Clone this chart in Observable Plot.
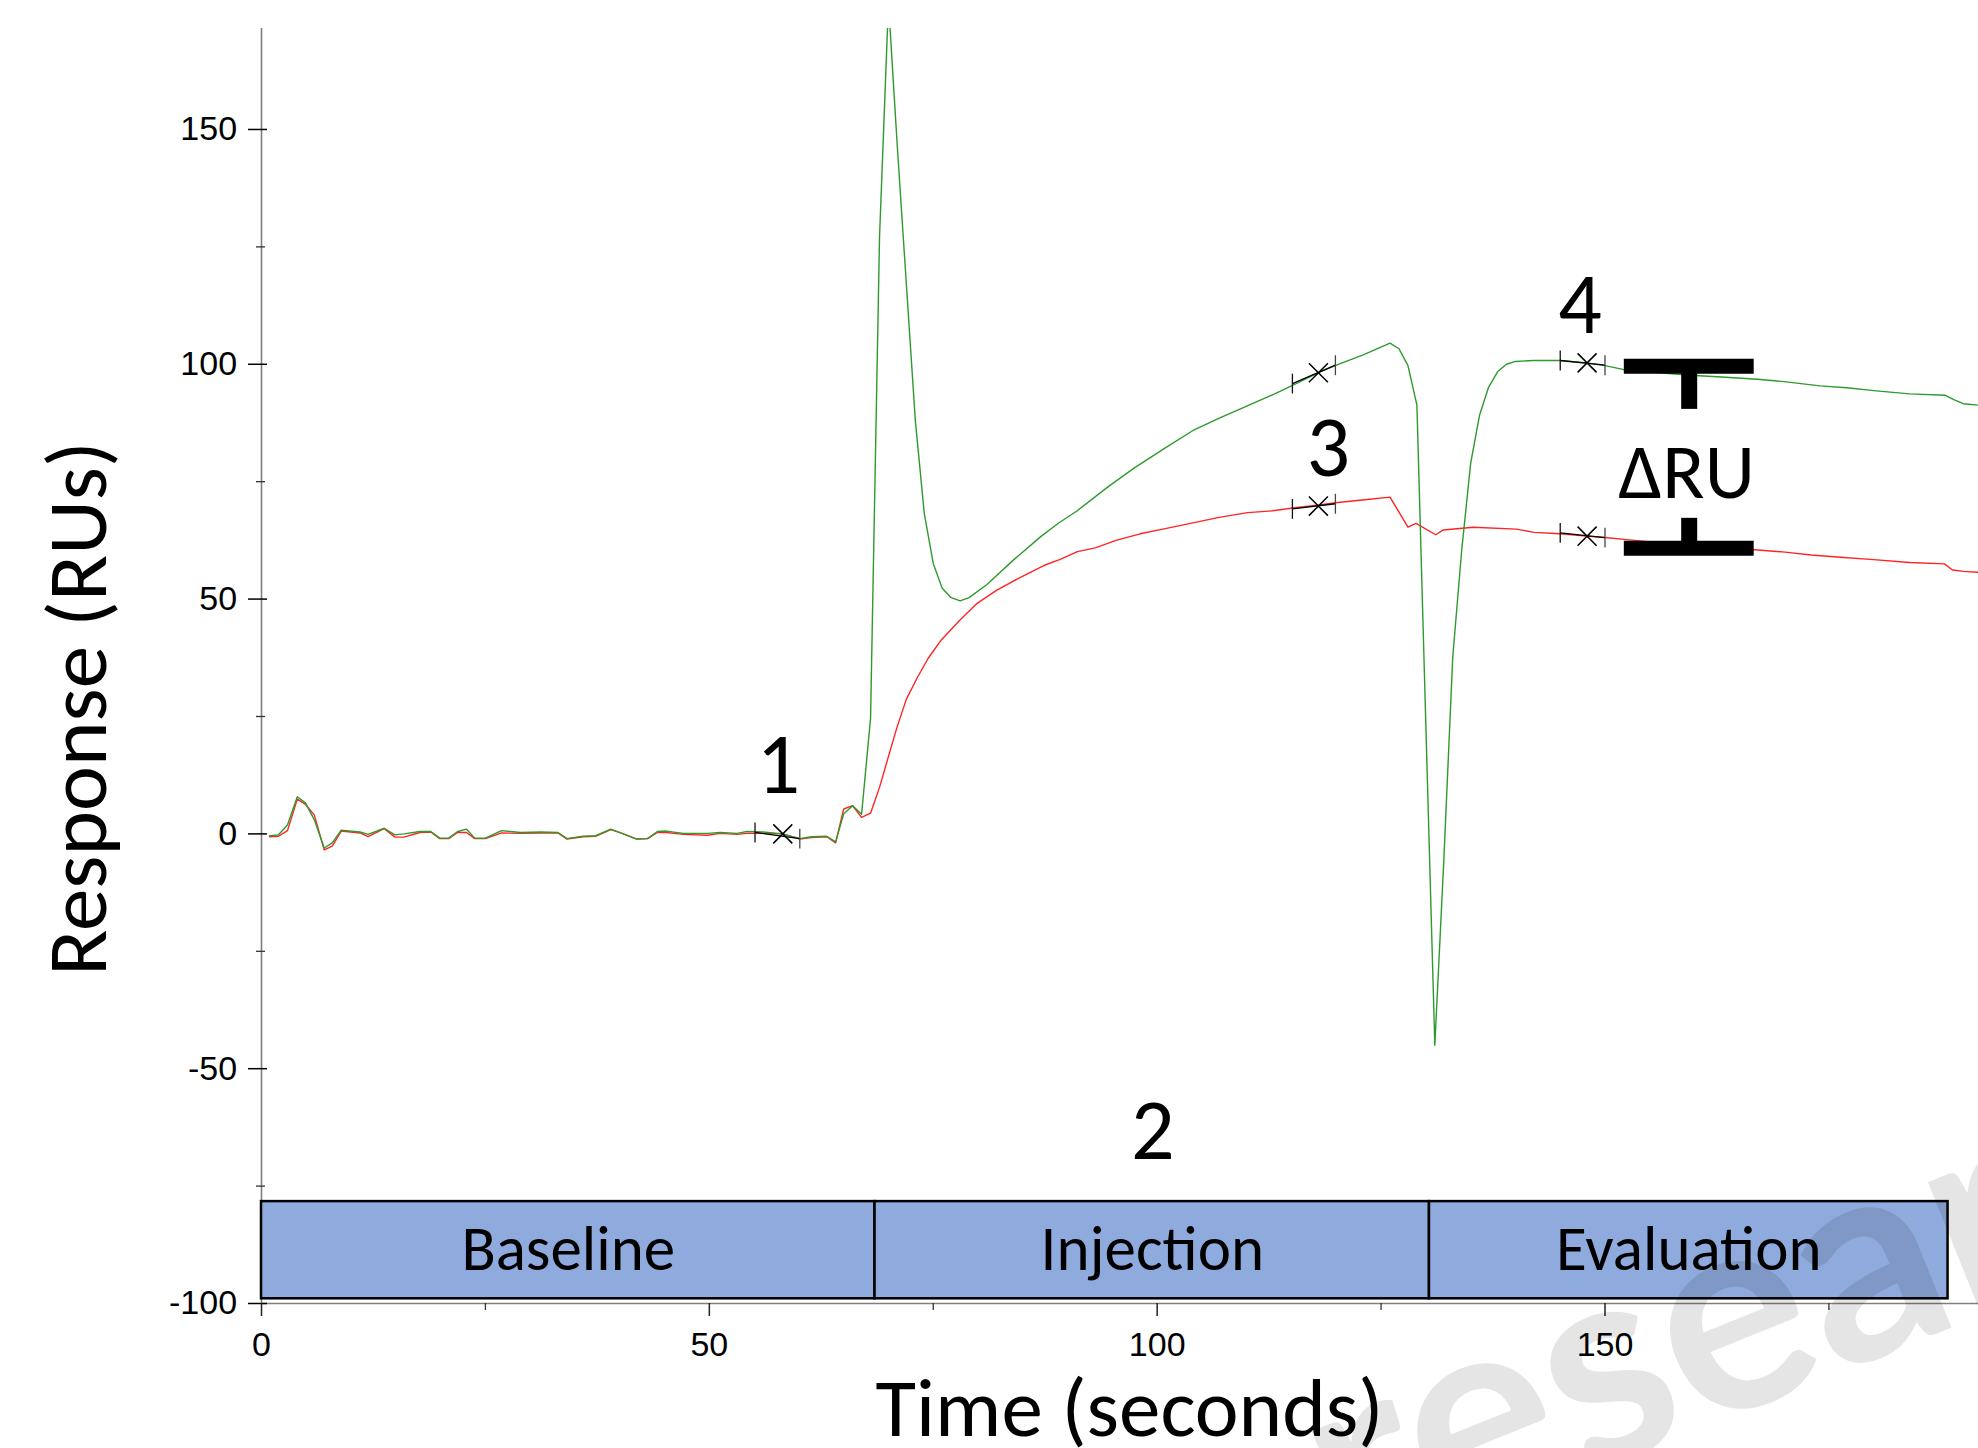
<!DOCTYPE html>
<html><head><meta charset="utf-8">
<script src="https://cdn.jsdelivr.net/npm/d3@7"></script>
<script src="https://cdn.jsdelivr.net/npm/@observablehq/plot@0.6"></script>
<style>html,body{margin:0;padding:0;background:#fff;overflow:hidden}</style>
</head><body><div id="chart"></div>
<script>
// ---- data ----
const greenTime = [0.9,1.9,2.9,4.0,4.9,5.9,7.0,7.9,8.9,11.0, 11.9,13.7,14.9,15.9,17.7,18.9,19.9,20.9,21.9,22.9, 23.8,25.0,26.8,28.9,31.2,33.1,34.1,35.9,37.3,39.0, 40.1,41.9,43.1,44.2,45.2,47.1,49.8,51.2,53.1,54.2, 56.0,58.2,60.1,61.4,63.1,64.1,65.0,66.0,67.0,68.0, 69,70,71,72,73,74,75,76,77,78, 79,81,84,87,89,91,94.5,97.5,101,104, 107,110,113,115,118,120,123,126,127,128, 129,130,131,132,133,134,135,136,137,138, 139,140,142,145,148,150,152,156,160,163, 167,170,174,177,180,184,188,189,190,191.7];
const greenResponse = [-0.4,-0.2,1.9,7.9,6.6,3.0,-3.0,-1.9,0.8,0.4, -0.1,1.2,-0.2,0.0,0.5,0.5,-0.9,-0.9,0.5,1.0, -0.9,-0.9,0.7,0.3,0.4,0.3,-1.0,-0.5,-0.4,1.0, 0.2,-1.1,-1.0,0.5,0.6,0.1,0.1,0.3,0.1,0.5, 0.4,0.0,-1.0,-0.6,-0.5,-1.7,4.3,6.0,4.2,24.6, 127,177,146,117,88,68.2,57.6,52.3,50.3,49.6, 50.3,53.1,58.4,63.3,66.2,68.7,73.9,78.0,82.3,85.9, 88.6,91.1,93.6,95.4,98.2,99.8,102.0,104.5,103.3,99.7, 91.3,23.0,-45.0,-5.8,37.6,60.4,78.9,89.2,95.1,98.4, 100.0,100.6,100.8,100.8,100.3,99.7,98.9,98.2,97.6,97.3, 96.8,96.3,95.4,95.0,94.4,93.7,93.4,92.4,91.6,91.3];
const redTime = [0.9,1.9,2.9,4.0,4.9,5.9,7.0,7.9,8.9,11.0, 11.9,13.7,14.9,15.9,17.7,18.9,19.9,20.9,21.9,22.9, 23.8,25.0,26.8,28.9,31.2,33.1,34.1,35.9,37.3,39.0, 40.1,41.9,43.1,44.2,45.2,47.1,49.8,51.2,53.1,54.2, 56.0,58.2,60.1,61.4,63.1,64.1, 65,66,67,68,69,70,71,72, 73.2,74.4,75.9,77.9,79.9,82.1,84.9,87.4,89.1,91.1, 93.1,95.4,98.1,100.9,104.4,106.9,110.1,112.9,115.1,117.9, 119.9,122.9,126.0,128.0,128.9,131.1,131.9,135.3,140.1,142.1, 145.0,147.9,150.0,152.7,156.0,160.0,163.0,166.7,170.1,173.0, 176.3,180.0,184.0,187.9,188.8,190.0,191.7];
const redResponse = [-0.6,-0.5,0.7,7.4,6.3,4.0,-3.4,-2.6,0.6,0.2, -0.6,1.1,-0.7,-0.7,0.3,0.4,-1.0,-1.0,0.3,0.3, -1.0,-1.0,0.2,0.1,0.2,0.2,-1.1,-0.6,-0.5,0.9, 0.2,-1.1,-1.0,0.3,0.3,-0.1,-0.3,0.1,-0.1,0.1, 0.1,0.0,-1.1,-0.8,-0.6,-1.9, 5.3,6.0,3.5,4.4,9.9,16.5,23.0,28.7, 33.2,37.3,41.3,45.4,49.1,51.9,54.8,57.2,58.4,60.1, 60.9,62.5,63.9,65.0,66.4,67.4,68.4,68.8,69.4,70.0, 70.5,71.1,71.7,65.3,66.1,63.7,64.7,65.3,64.9,64.2, 63.9,63.4,63.1,62.6,62.0,61.5,61.0,60.5,60.0,59.4, 58.9,58.4,57.8,57.5,56.2,55.9,55.7];

const xTicks = [0, 50, 100, 150];
const xMinorTicks = [25, 75, 125, 175];
const yTicks = [-100, -50, 0, 50, 100, 150];
const yMinorTicks = [-75, -25, 25, 75, 125];

const phaseNames = ["Baseline", "Injection", "Evaluation"];
const phaseStart = [0, 68.5, 130.4];
const phaseEnd = [68.5, 130.4, 188.3];
const phaseLow = -99.0, phaseHigh = -78.3;

const stepLabels = ["1", "2", "3", "4"];
const stepTime = [57.7, 99.5, 119.1, 147.2];
const stepResponse = [8.7, -69.2, 76.2, 106.7];

// report points: centre (×) and window bars
const reportTime = [58.2, 118.0, 118.0, 148.0, 148.0];
const reportResponse = [0.0, 98.2, 69.8, 100.3, 63.4];
const windowStartTime = [55.1, 115.1, 115.1, 145.0, 145.0];
const windowStartResponse = [0.3, 95.9, 69.2, 100.8, 64.1];
const windowEndTime = [60.1, 119.9, 119.9, 150.0, 150.0];
const windowEndResponse = [-1.0, 99.8, 70.3, 99.8, 63.1];

// ΔRU bracket
const deltaLabel = "ΔRU";
const deltaLabelTime = 159.1, deltaLabelResponse = 71.5;
const bracketStart = 152.1, bracketEnd = 166.6, bracketStem = 159.4;
const bracketHigh = 99.6, bracketLow = 60.8;
const stemHighEnd = 90.5, stemLowEnd = 67.3;

const xTitle = "Time (seconds)";
const yTitle = "Response (RUs)";
const watermark = "research";

// ---- build tables ----
const green = greenTime.map((t, i) => ({t, v: greenResponse[i]}));
const red = redTime.map((t, i) => ({t, v: redResponse[i]}));
const phases = phaseNames.map((name, i) => ({name, x1: phaseStart[i], x2: phaseEnd[i], y1: phaseLow, y2: phaseHigh, xm: (phaseStart[i] + phaseEnd[i]) / 2, ym: (phaseLow + phaseHigh) / 2}));
const steps = stepLabels.map((label, i) => ({label, t: stepTime[i], v: stepResponse[i]}));
const reports = reportTime.map((t, i) => ({t, v: reportResponse[i], tl: windowStartTime[i], vl: windowStartResponse[i], tr: windowEndTime[i], vr: windowEndResponse[i]}));
const bars = [{x1: bracketStart, x2: bracketEnd, y1: bracketHigh, y2: bracketHigh}, {x1: bracketStart, x2: bracketEnd, y1: bracketLow, y2: bracketLow}];
const stems = [{x1: bracketStem, x2: bracketStem, y1: bracketHigh, y2: stemHighEnd}, {x1: bracketStem, x2: bracketStem, y1: bracketLow, y2: stemLowEnd}];

const calibriLike = "Carlito, Lato, 'Open Sans', sans-serif";
const narrow = "'Liberation Sans Narrow', 'Arial Narrow', 'Liberation Sans', Arial, sans-serif";
const vbar = {draw(ctx, size) { const h = Math.sqrt(size); ctx.moveTo(0, -h); ctx.lineTo(0, h); }};

const chart = Plot.plot({
  width: 1978, height: 1448,
  marginLeft: 261, marginRight: 0, marginTop: 28, marginBottom: 145,
  x: {domain: [0, 191.7]},
  y: {domain: [-100, 171.5]},
  style: {fontFamily: narrow, fontSize: "34px", color: "#000", background: "#fff", overflow: "hidden"},
  marks: [
    Plot.ruleX([0], {stroke: "#7f7f7f", strokeWidth: 1.6}),
    Plot.ruleY([-100], {stroke: "#7f7f7f", strokeWidth: 1.6}),
    Plot.axisY(yTicks, {tickSize: 19, dx: 6, tickPadding: 11.4, tickFormat: d => String(d), label: null, stroke: "#000", strokeWidth: 1.5, fontSize: 34, fontFamily: narrow}),
    Plot.axisY(yMinorTicks, {tickSize: 9, dx: 4, tickFormat: () => "", label: null, stroke: "#333", strokeWidth: 1.3}),
    Plot.axisX(xTicks, {tickSize: 13, tickPadding: 15, tickFormat: d => String(d), label: null, stroke: "#222", strokeWidth: 1.5, fontSize: 34, fontFamily: narrow}),
    Plot.axisX(xMinorTicks, {tickSize: 7, tickFormat: () => "", label: null, stroke: "#333", strokeWidth: 1.3}),
    Plot.rect(phases, {x1: "x1", x2: "x2", y1: "y1", y2: "y2", fill: "#8FAADC", stroke: "#000", strokeWidth: 2.5}),
    Plot.text(phases, {x: "xm", y: "ym", text: "name", fontSize: 63, fontFamily: calibriLike, fill: "#000", lineAnchor: "middle"}),
    Plot.line(red, {x: "t", y: "v", stroke: "#ff2424", strokeWidth: 1.4, clip: true}),
    Plot.line(green, {x: "t", y: "v", stroke: "#2e9a2e", strokeWidth: 1.4, clip: true}),
    Plot.link(reports, {x1: "tl", y1: "vl", x2: "tr", y2: "vr", stroke: "#000", strokeWidth: 1.3}),
    Plot.dot(reports, {x: "tl", y: "vl", symbol: vbar, r: 5.6, stroke: "#111", fill: "none", strokeWidth: 1.3}),
    Plot.dot(reports, {x: "tr", y: "vr", symbol: vbar, r: 5.6, stroke: "#444", fill: "none", strokeWidth: 1.3}),
    Plot.dot(reports, {x: "t", y: "v", symbol: "times", r: 8.7, stroke: "#000", strokeWidth: 1.5}),
    Plot.text(steps, {x: "t", y: "v", text: "label", fontSize: 86, fontFamily: calibriLike, fill: "#000", lineAnchor: "bottom"}),
    Plot.link(bars, {x1: "x1", x2: "x2", y1: "y1", y2: "y2", stroke: "#000", strokeWidth: 15}),
    Plot.link(stems, {x1: "x1", x2: "x2", y1: "y1", y2: "y2", stroke: "#000", strokeWidth: 16}),
    Plot.text([deltaLabel], {x: deltaLabelTime, y: deltaLabelResponse, text: d => d, fontSize: 78, fontFamily: calibriLike, fill: "#000", lineAnchor: "bottom"}),
    Plot.text([xTitle], {frameAnchor: "bottom", textAnchor: "middle", dx: 9.5, dy: 132, text: d => d, fontSize: 83, fontFamily: calibriLike, fill: "#000", lineAnchor: "bottom"}),
    Plot.text([yTitle], {frameAnchor: "left", textAnchor: "middle", dx: -156, dy: 42.5, rotate: -90, text: d => d, fontSize: 85, fontFamily: calibriLike, fill: "#000", lineAnchor: "bottom"}),
    Plot.text([watermark], {frameAnchor: "bottom-right", textAnchor: "middle", dx: -172, dy: -14, rotate: -22, text: d => d, fontSize: 280, fontWeight: 700, fontFamily: "Lato, 'Open Sans', sans-serif", fill: "#000", fillOpacity: 0.1, lineAnchor: "middle"})
  ]
});
document.getElementById("chart").append(chart);
</script>
</body></html>
